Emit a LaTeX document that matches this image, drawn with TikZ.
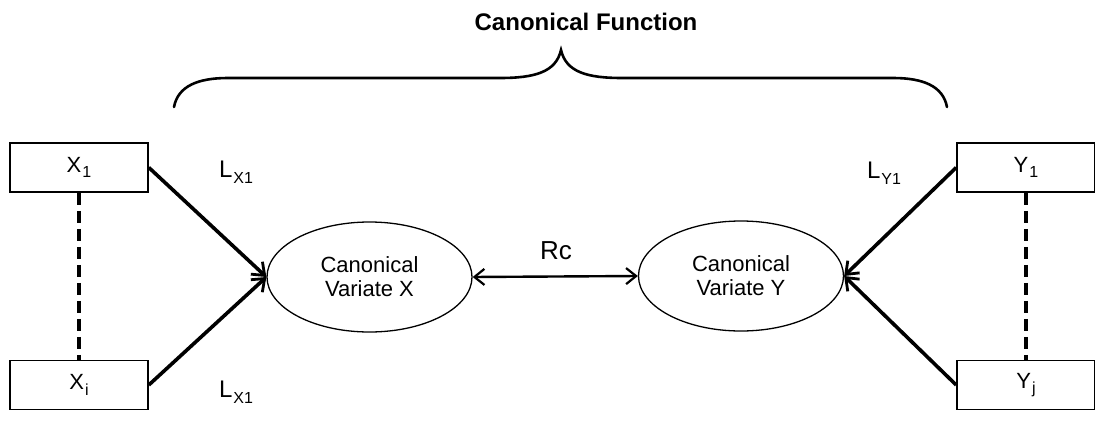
\documentclass[tikz,border=0pt]{standalone}
\usepackage{fontspec}
\setmainfont{Liberation Sans}
\usetikzlibrary{arrows.meta,shapes.geometric}
\newcommand{\lowsub}[1]{\kern1pt\raisebox{-0.45ex}{\fontsize{16}{16}\selectfont #1}}
\begin{document}
\begin{tikzpicture}[x=1pt,y=-1pt,
  varbox/.style={draw,line width=1.6pt,minimum width=138pt,minimum height=49pt,inner sep=0pt,
    font=\fontsize{22}{24}\selectfont},
  variate/.style={draw,ellipse,line width=1.3pt,minimum width=205pt,minimum height=110pt,inner sep=0pt,
    align=center,font=\fontsize{22}{24}\selectfont},
  loadarrow/.style={line width=3.6pt,-{Straight Barb[length=11pt,width=17pt,line width=2.8pt]}},
  linkline/.style={line width=3.6pt,dash pattern=on 12pt off 6pt},
  loadlabel/.style={font=\fontsize{24}{24}\selectfont,inner sep=0pt},
  bracepath/.style={line width=2.6pt,line cap=round}]
\useasboundingbox (0,0) rectangle (1095,423);

% observed variables
\node[varbox] (x1) at (79,167.5) {X\lowsub{1}};
\node[varbox] (xi) at (79,385) {X\lowsub{i}};
\node[varbox] (y1) at (1026,167.5) {Y\lowsub{1}};
\node[varbox] (yj) at (1026,385) {Y\lowsub{j}};

% canonical variates
\node[variate] (vx) at (369.5,277) {Canonical\\Variate X};
\node[variate] (vy) at (741,276) {Canonical\\Variate Y};

% dashed links within each variable set
\draw[linkline] (x1.south) -- (xi.north);
\draw[linkline] (y1.south) -- (yj.north);

% loadings
\draw[loadarrow] (x1.east) -- (vx.west);
\draw[loadarrow] (xi.east) -- (vx.west);
\draw[loadarrow] (y1.west) -- (vy.east);
\draw[loadarrow] (yj.west) -- (vy.east);

\node[loadlabel] (lx1) at (236,172) {L\lowsub{X1}};
\node[loadlabel] (lxi) at (236,392) {L\lowsub{X1}};
\node[loadlabel] (ly1) at (884,173) {L\lowsub{Y1}};

% canonical correlation
\draw[line width=2.4pt,{Straight Barb[length=10pt,width=16pt,line width=2.2pt]}-{Straight Barb[length=10pt,width=16pt,line width=2.2pt]}]
  (vx.east) -- (vy.west);
\node[font=\fontsize{26}{28}\selectfont,inner sep=0pt] (rc) at (556,251) {Rc};

% brace over the function
\coordinate (bl) at (174,107);
\coordinate (bm) at (561,50);
\coordinate (br) at (947,107);
\draw[bracepath] (bl) .. controls (178,86) and (198,78) .. (228,78) -- (500,78)
  .. controls (535,78) and (556,72) .. (bm)
  .. controls (566,72) and (587,78) .. (622,78) -- (893,78)
  .. controls (923,78) and (943,86) .. (br);
\node[font=\bfseries\fontsize{24}{24}\selectfont,inner sep=0pt] (title) at (586,22) {Canonical Function};
\end{tikzpicture}
\end{document}
